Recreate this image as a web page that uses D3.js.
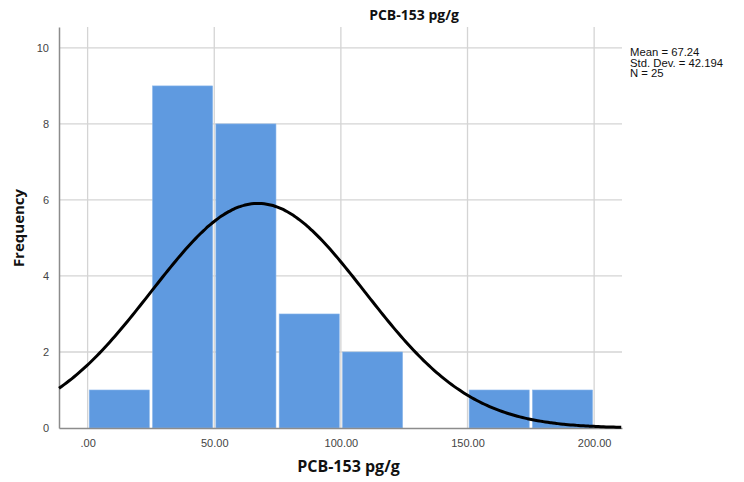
<!DOCTYPE html>
<html>
<head>
<meta charset="utf-8">
<script src="https://cdn.jsdelivr.net/npm/d3@7"></script>
<style>
  body { margin: 0; background: #fff; }
  svg { display: block; font-family: "Open Sans", "DejaVu Sans", sans-serif; }
</style>
</head>
<body>
<div id="chart"></div>
<script>
// histogram bins (pg/g) and counts
const binStarts = [0, 25, 50, 75, 100, 125, 150, 175];
const binWidth = 25;
const counts = [1, 9, 8, 3, 2, 0, 1, 1];
const xTicks = [0, 50, 100, 150, 200];
const xTickLabels = [".00", "50.00", "100.00", "150.00", "200.00"];
const yTicks = [0, 2, 4, 6, 8, 10];
const stats = { mean: 67.24, sd: 42.194, n: 25 };
const statLines = ["Mean = 67.24", "Std. Dev. = 42.194", "N = 25"];

const width = 744, height = 482;
const margin = { top: 27, right: 122, bottom: 54, left: 59 };
const innerW = width - margin.left - margin.right;
const innerH = height - margin.top - margin.bottom;

const svg = d3.select("#chart").append("svg")
  .attr("width", width)
  .attr("height", height);

const g = svg.append("g")
  .attr("transform", `translate(${margin.left},${margin.top})`);

const x = d3.scaleLinear().domain([-11.3, 211]).range([0, innerW]);
const y = d3.scaleLinear().domain([0, 10.55]).range([innerH, 0]);

// grid
g.selectAll("line.hgrid")
  .data(yTicks.filter(d => d > 0))
  .enter().append("line")
  .attr("x1", 0).attr("x2", innerW)
  .attr("y1", d => y(d)).attr("y2", d => y(d))
  .attr("stroke", "#d4d4d4").attr("stroke-width", 1.3);

g.selectAll("line.vgrid")
  .data(xTicks)
  .enter().append("line")
  .attr("x1", d => x(d)).attr("x2", d => x(d))
  .attr("y1", 0).attr("y2", innerH)
  .attr("stroke", "#d4d4d4").attr("stroke-width", 1.3);

// bars
g.selectAll("rect.bar")
  .data(binStarts.map((s, i) => ({ s, c: counts[i] })).filter(d => d.c > 0))
  .enter().append("rect")
  .attr("class", "bar")
  .attr("x", d => x(d.s) + 1.6)
  .attr("width", d => x(d.s + binWidth) - x(d.s) - 3.2)
  .attr("y", d => y(d.c))
  .attr("height", d => y(0) - y(d.c))
  .attr("fill", "#5f9ae0")
  .attr("stroke", "#8ab6ea")
  .attr("stroke-width", 0.6);

// axes
const xAxis = d3.axisBottom(x).tickValues(xTicks)
  .tickFormat((d, i) => xTickLabels[i]).tickSize(0).tickPadding(11);
const yAxis = d3.axisLeft(y).tickValues(yTicks).tickSize(0).tickPadding(10);

g.append("g")
  .attr("transform", `translate(0,${innerH})`)
  .call(xAxis)
  .call(s => s.select(".domain").attr("stroke", "#8c8c8c").attr("stroke-width", 1.5))
  .selectAll("text").attr("fill", "#444").attr("font-size", 11);

g.append("g")
  .call(yAxis)
  .call(s => s.select(".domain").attr("stroke", "#8c8c8c").attr("stroke-width", 1.5))
  .selectAll("text").attr("fill", "#444").attr("font-size", 11);

// normal curve from the stated mean / sd / n
const pdf = v => Math.exp(-0.5 * ((v - stats.mean) / stats.sd) ** 2) / (stats.sd * Math.sqrt(2 * Math.PI));
const curvePts = d3.range(x.domain()[0], x.domain()[1] + 0.01, 1).map(v => [v, stats.n * binWidth * pdf(v)]);

g.append("path")
  .datum(curvePts)
  .attr("fill", "none")
  .attr("stroke", "#000")
  .attr("stroke-width", 3)
  .attr("d", d3.line().x(d => x(d[0])).y(d => y(d[1])).curve(d3.curveBasis));

// titles
svg.append("text")
  .attr("x", 414).attr("y", 20)
  .attr("text-anchor", "middle")
  .attr("font-size", 14).attr("font-weight", "bold")
  .attr("fill", "#111")
  .text("PCB-153 pg/g");

svg.append("text")
  .attr("x", margin.left + innerW / 2 + 8).attr("y", 472)
  .attr("text-anchor", "middle")
  .attr("font-size", 16).attr("font-weight", "bold")
  .attr("fill", "#111")
  .text("PCB-153 pg/g");

svg.append("text")
  .attr("transform", `translate(24,${228}) rotate(-90)`)
  .attr("text-anchor", "middle")
  .attr("font-size", 15).attr("font-weight", "bold")
  .attr("fill", "#111")
  .text("Frequency");

// stats block
svg.append("g")
  .selectAll("text")
  .data(statLines)
  .enter().append("text")
  .attr("x", 630)
  .attr("y", (d, i) => 56 + i * 10.5)
  .attr("font-family", "'Liberation Sans', Arial, sans-serif")
  .attr("font-size", 11.3)
  .attr("fill", "#111")
  .text(d => d);
</script>
</body>
</html>
